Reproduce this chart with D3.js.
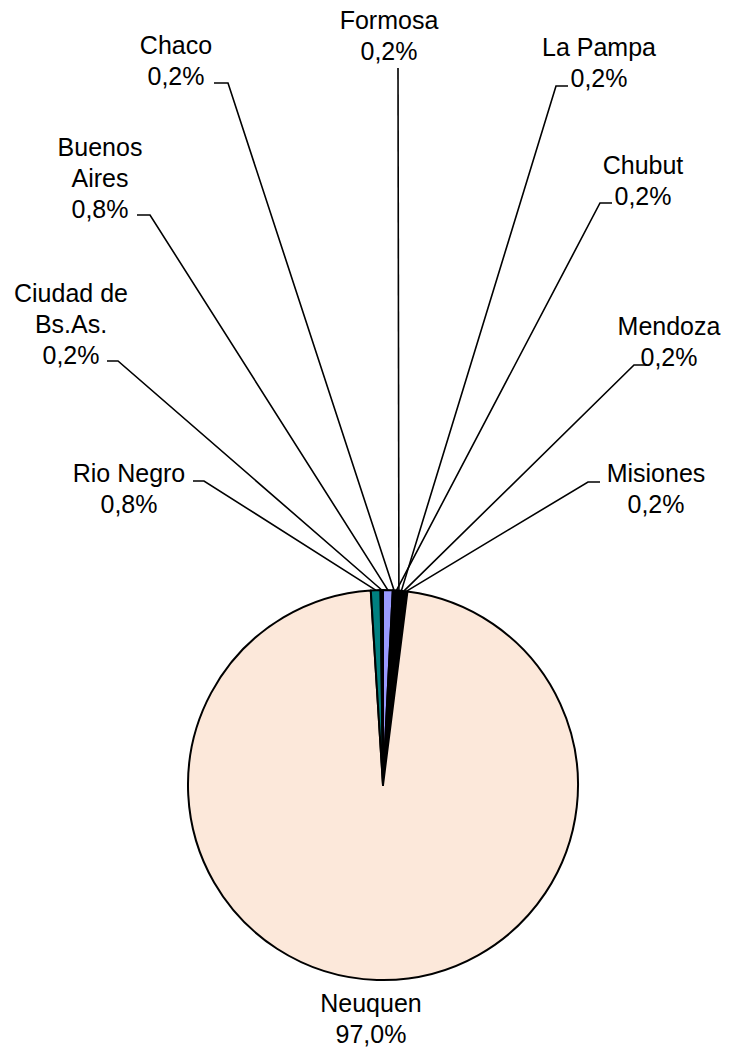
<!DOCTYPE html>
<html lang="es">
<head>
<meta charset="UTF-8">
<title>Pie</title>
<style>
body { margin: 0; background: #fff; }
text { font-family: 'Liberation Sans', Arial, sans-serif; font-size: 25px; fill: #000; }
</style>
</head>
<body>
<div id="chart"></div>
<script src="https://cdnjs.cloudflare.com/ajax/libs/d3/7.8.5/d3.min.js"></script>
<script>

// data, in the order the slices are drawn (clockwise from 12 o'clock)
var provinces = ["Buenos Aires", "Chaco", "Chubut", "Formosa", "La Pampa",
                 "Mendoza", "Misiones", "Neuquen", "Rio Negro", "Ciudad de Bs.As."];
var shares = [0.8, 0.2, 0.2, 0.2, 0.2, 0.2, 0.2, 97.0, 0.8, 0.2];
var labels = ["0,8%", "0,2%", "0,2%", "0,2%", "0,2%", "0,2%", "0,2%", "97,0%", "0,8%", "0,2%"];
var sliceColors = ["#9999FF", "#000000", "#000000", "#000000", "#000000",
                   "#000000", "#000000", "#FCE8DA", "#008080", "#000000"];

// where the labels sit (layout only)
var labelLayout = {
  "Buenos Aires":     { x: 100, y: 156, lines: ["Buenos", "Aires"], stub: [137, 150, 215] },
  "Chaco":            { x: 176, y: 54,  lines: ["Chaco"], stub: [214, 228, 83] },
  "Chubut":           { x: 643, y: 174, lines: ["Chubut"], stub: [612, 600, 203] },
  "Formosa":          { x: 389, y: 29,  lines: ["Formosa"], stub: [398, 398, 68] },
  "La Pampa":         { x: 599, y: 56,  lines: ["La Pampa"], stub: [568, 556, 86] },
  "Mendoza":          { x: 669, y: 335, lines: ["Mendoza"], stub: [646, 634, 365] },
  "Misiones":         { x: 656, y: 482, lines: ["Misiones"], stub: [600, 588, 482] },
  "Neuquen":          { x: 371, y: 1012, lines: ["Neuquen"], stub: null },
  "Rio Negro":        { x: 129, y: 482, lines: ["Rio Negro"], stub: [193, 204, 481] },
  "Ciudad de Bs.As.": { x: 71,  y: 302, lines: ["Ciudad de", "Bs.As."], stub: [107, 118, 361] }
};

var width = 736, height = 1054;
var cx = 383, cy = 785, radius = 195;
var lineGap = 31;

var data = provinces.map(function (p, i) {
  return { name: p, value: shares[i], label: labels[i], color: sliceColors[i] };
});

var svg = d3.select('#chart').append('svg')
  .attr('width', width)
  .attr('height', height);

var pie = d3.pie()
  .value(function (d) { return d.value; })
  .sort(null);

var arc = d3.arc().innerRadius(0).outerRadius(radius);

var arcs = pie(data);

var g = svg.append('g').attr('transform', 'translate(' + cx + ',' + cy + ')');

g.selectAll('path.slice')
  .data(arcs)
  .enter()
  .append('path')
  .attr('class', 'slice')
  .attr('d', arc)
  .attr('fill', function (d) { return d.data.color; })
  .attr('stroke', '#000')
  .attr('stroke-width', 2)
  .attr('stroke-linejoin', 'round');

// leader lines: stub next to the label, then straight to the slice rim
arcs.forEach(function (d) {
  var lay = labelLayout[d.data.name];
  if (!lay.stub) return;
  var mid = (d.startAngle + d.endAngle) / 2;
  var px = cx + radius * Math.sin(mid);
  var py = cy - radius * Math.cos(mid);
  var pts = [[lay.stub[0], lay.stub[2]], [lay.stub[1], lay.stub[2]], [px, py]];
  svg.append('path')
    .attr('d', d3.line()(pts))
    .attr('fill', 'none')
    .attr('stroke', '#000')
    .attr('stroke-width', 1.6);
});

// labels
arcs.forEach(function (d) {
  var lay = labelLayout[d.data.name];
  var t = svg.append('text')
    .attr('text-anchor', 'middle')
    .attr('x', lay.x)
    .attr('y', lay.y);
  var all = lay.lines.concat([d.data.label]);
  all.forEach(function (s, i) {
    t.append('tspan')
      .attr('x', lay.x)
      .attr('y', lay.y + i * lineGap)
      .text(s);
  });
});

</script>
</body>
</html>
